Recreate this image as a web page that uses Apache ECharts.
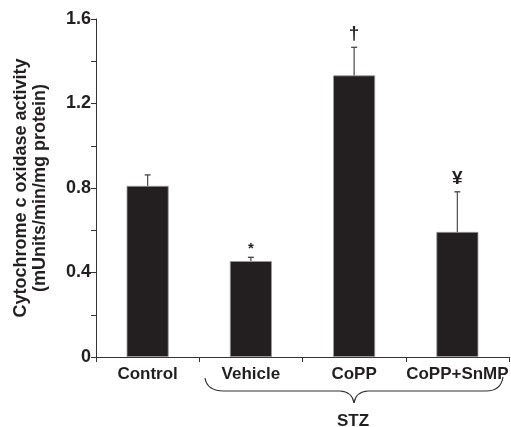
<!DOCTYPE html>
<html>
<head>
<meta charset="utf-8">
<script src="https://cdn.jsdelivr.net/npm/echarts@6/dist/echarts.min.js"></script>
<style>html,body{margin:0;padding:0;background:#fff;}#c{width:511px;height:427px;}</style>
</head>
<body>
<div id="c"></div>
<script>
var categories = ['Control', 'Vehicle', 'CoPP', 'CoPP+SnMP'];
var means = [0.81, 0.454, 1.333, 0.592];
var errors = [0.052, 0.018, 0.133, 0.19];
var marks = ['', '*', '\u2020', '\u00A5'];
var yTickLabels = ['0', '0.4', '0.8', '1.2', '1.6'];
var groupLabel = 'STZ';
var yName = 'Cytochrome c oxidase activity\n(mUnits/min/mg protein)';

var FONT = 'Liberation Sans, Arial, sans-serif';
var chart = echarts.init(document.getElementById('c'), null, {renderer: 'canvas'});

var errData = categories.map(function (c, i) { return [i, means[i], errors[i]]; });

var braceStyle = {stroke: '#333', lineWidth: 1.2, fill: null};
function qc(x1, y1, cx, cy, x2, y2) {
  return {type: 'bezierCurve', shape: {x1: x1, y1: y1, cpx1: cx, cpy1: cy, x2: x2, y2: y2}, style: braceStyle, silent: true};
}
function ln(x1, y1, x2, y2) {
  return {type: 'line', shape: {x1: x1, y1: y1, x2: x2, y2: y2}, style: braceStyle, silent: true};
}

chart.setOption({
  animation: false,
  grid: {left: 96, right: 2, top: 19, bottom: 70, containLabel: false, outerBoundsMode: 'none'},
  xAxis: {
    type: 'category',
    data: categories,
    boundaryGap: true,
    axisLine: {lineStyle: {color: '#333', width: 1}},
    axisTick: {show: true, alignWithLabel: false, length: 5, lineStyle: {color: '#333'}},
    axisLabel: {color: '#231f20', fontFamily: FONT, fontWeight: 'bold', fontSize: 17, margin: 9, interval: 0}
  },
  yAxis: {
    type: 'value',
    min: 0, max: 1.6, interval: 0.2,
    name: yName,
    nameLocation: 'middle',
    nameGap: 46,
    nameTextStyle: {color: '#231f20', fontFamily: FONT, fontWeight: 'bold', fontSize: 18, lineHeight: 19},
    axisLine: {show: true, lineStyle: {color: '#333', width: 1}},
    axisTick: {show: true, length: 5, lineStyle: {color: '#333'}},
    splitLine: {show: false},
    axisLabel: {
      color: '#231f20', fontFamily: FONT, fontWeight: 'bold', fontSize: 18, margin: 5,
      formatter: function (v) {
        var s = v === 0 ? '0' : v.toFixed(1);
        return yTickLabels.indexOf(s) >= 0 ? s : '';
      }
    }
  },
  series: [
    {
      type: 'bar',
      data: means,
      barWidth: 42,
      itemStyle: {color: '#231f20', borderColor: '#9a9a9a', borderWidth: 0.8},
      z: 2
    },
    {
      type: 'custom',
      data: errData,
      z: 3,
      renderItem: function (params, api) {
        var x = api.value(0), m = api.value(1), e = api.value(2);
        var p0 = api.coord([x, m]);
        var p1 = api.coord([x, m + e]);
        var mark = marks[params.dataIndex];
        var children = [
          {type: 'line', shape: {x1: p0[0], y1: p0[1], x2: p1[0], y2: p1[1]}, style: {stroke: '#555', lineWidth: 1.3}},
          {type: 'line', shape: {x1: p1[0] - 3, y1: p1[1], x2: p1[0] + 3, y2: p1[1]}, style: {stroke: '#444', lineWidth: 1.3}}
        ];
        if (mark) {
          var big = mark !== '*';
          children.push({
            type: 'text',
            style: {
              text: mark, x: p1[0], y: p1[1] - (big ? 4 : 1),
              textAlign: 'center', textVerticalAlign: 'bottom',
              fill: '#231f20', fontFamily: FONT, fontWeight: 'bold',
              fontSize: big ? 19 : 15
            }
          });
        }
        return {type: 'group', children: children};
      }
    }
  ],
  graphic: [
    qc(205, 378, 207, 391, 224, 391),
    ln(224, 391, 340, 391),
    qc(340, 391, 352, 391.5, 354, 403),
    qc(354, 403, 356, 391.5, 368, 391),
    ln(368, 391, 486, 391),
    qc(486, 391, 501, 391, 503, 377),
    {
      type: 'text',
      x: 353, y: 421,
      style: {text: groupLabel, textAlign: 'center', textVerticalAlign: 'middle', fill: '#231f20',
        fontFamily: FONT, fontWeight: 'bold', fontSize: 17}
    }
  ]
});
</script>
</body>
</html>
